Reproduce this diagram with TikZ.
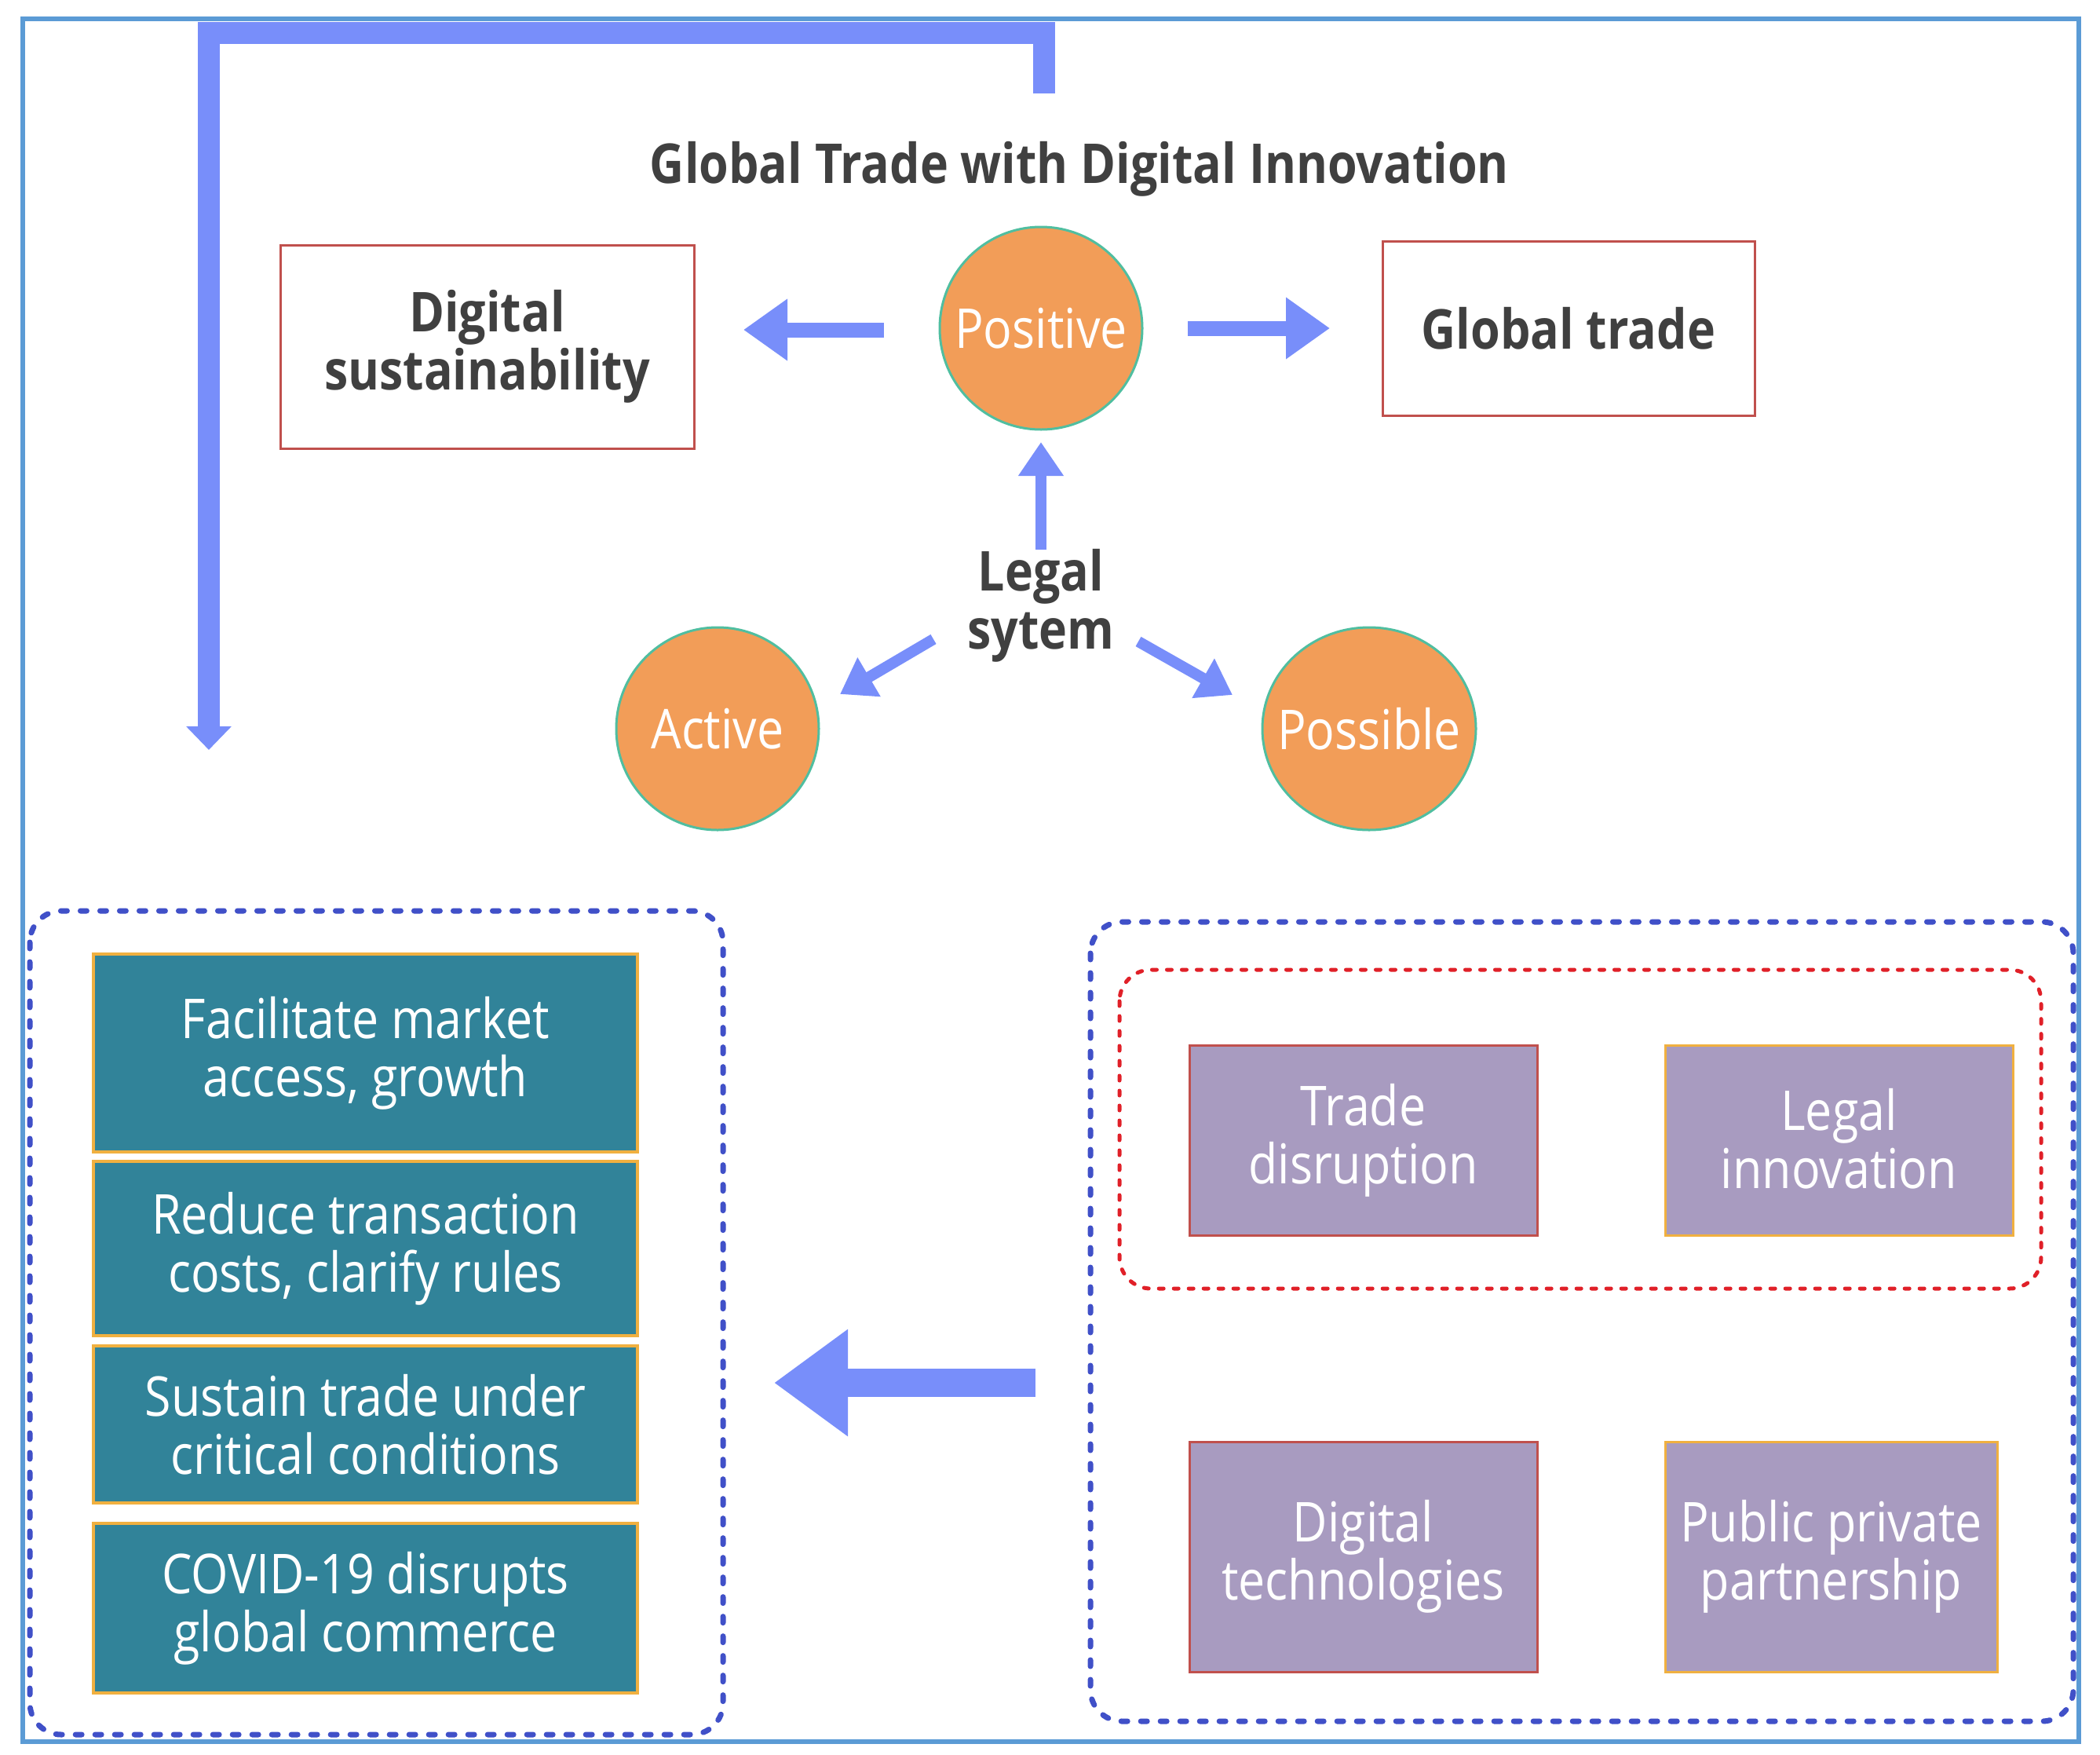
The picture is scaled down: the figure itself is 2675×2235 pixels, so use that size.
\documentclass[tikz,border=0pt]{standalone}
\usepackage{fontspec}
\setmainfont[FakeStretch=0.87]{Open Sans}
\usetikzlibrary{arrows.meta,shapes.geometric}
\definecolor{frameblue}{RGB}{91,155,213}
\definecolor{arrowblue}{RGB}{120,142,250}
\definecolor{darktext}{RGB}{64,64,64}
\definecolor{boxred}{RGB}{192,80,77}
\definecolor{circfill}{RGB}{242,157,88}
\definecolor{circedge}{RGB}{80,190,160}
\definecolor{tealfill}{RGB}{49,131,153}
\definecolor{edgeorange}{RGB}{240,176,64}
\definecolor{purplefill}{RGB}{168,155,192}
\definecolor{dashblue}{RGB}{64,80,200}
\definecolor{dashred}{RGB}{224,32,40}
\begin{document}
\begin{tikzpicture}[x=1pt,y=-1pt,
  txt/.style={font=\fontsize{70}{74}\selectfont, align=center},
  boldtxt/.style={font=\fontsize{70}{74}\selectfont\bfseries, align=center, text=darktext},
  whitebox/.style={rectangle, draw=boxred, line width=3pt, fill=white, boldtxt, inner sep=0pt},
  circ/.style={circle, draw=circedge, line width=3pt, fill=circfill, text=white, txt, minimum size=258pt, inner sep=0pt},
  tealbox/.style={rectangle, draw=edgeorange, line width=4pt, fill=tealfill, text=white, txt, minimum width=693pt, inner sep=0pt},
  purpbox/.style={rectangle, fill=purplefill, text=white, txt, line width=3pt, inner sep=0pt, minimum height=242pt},
  bigarrow/.style={draw=arrowblue, line width=19pt, line cap=butt, -{Triangle[width=75pt,length=56pt]}},
  smallarrow/.style={draw=arrowblue, line width=14pt, line cap=butt, -{Triangle[width=55pt,length=43pt]}},
  dashbox/.style={line width=7pt, rounded corners=40pt, dash pattern=on 8pt off 17pt, line cap=round}
]
\useasboundingbox (0,0) rectangle (2675,2235);
% outer frame
\draw[frameblue, line width=6pt] (29,24) rectangle (2648,2218);

% L-shaped arrow
\coordinate (Lstart) at (1330,119);
\coordinate (Lend) at (266,955);
\draw[arrowblue, line width=28pt, line join=miter, line cap=butt, -{Triangle[width=56pt,length=30pt]}]
  (Lstart) -- (1330,42) -- (266,42) -- (Lend);

% title
\node[boldtxt, anchor=base] (title) at (1375,233) {Global Trade with Digital Innovation};

% top boxes
\node[whitebox, minimum width=527pt, minimum height=259pt] (ds) at (620.5,441.5) {Digital\\sustainability};
\node[whitebox, minimum width=474pt, minimum height=222pt] (gt) at (1998,418) {Global trade};

% circles
\node[circ] (pos) at (1326,418) {Positive};
\node[circ] (act) at (914,928) {Active};
\draw[draw=circedge, line width=3pt, fill=circfill] (1744,928) ellipse [x radius=136pt, y radius=129pt];
\node[txt, text=white, circle, inner sep=0pt, minimum size=258pt] (psb) at (1744,928) {Possible};
\node[boldtxt] (legal) at (1326,771) {Legal\\sytem};

% arrows around Positive
\coordinate (aLs) at (1126,420);
\coordinate (aLe) at (947,420);
\coordinate (aRs) at (1513,418);
\coordinate (aRe) at (1694,418);
\draw[bigarrow] (aLs) -- (aLe);
\draw[bigarrow] (aRs) -- (aRe);

% arrows from legal system
\coordinate (uS) at (1326,700);
\coordinate (uE) at (1326,563);
\coordinate (acS) at (1189,814);
\coordinate (acE) at (1070,884);
\coordinate (psS) at (1450,817);
\coordinate (psE) at (1570,885);
\draw[smallarrow] (uS) -- (uE);
\draw[smallarrow] (acS) -- (acE);
\draw[smallarrow] (psS) -- (psE);

% left dashed group
\draw[dashbox, draw=dashblue] (38,1160) rectangle (921,2209);
\node[tealbox, minimum height=252pt] (t1) at (465.5,1341) {Facilitate market\\access, growth};
\node[tealbox, minimum height=222pt] (t2) at (465.5,1590) {Reduce transaction\\costs, clarify rules};
\node[tealbox, minimum height=200pt] (t3) at (465.5,1814) {Sustain trade under\\critical conditions};
\node[tealbox, minimum height=216pt] (t4) at (465.5,2048) {COVID-19 disrupts\\global commerce};

% big left arrow
\coordinate (bS) at (1319,1761);
\coordinate (bE) at (986,1761);
\draw[draw=arrowblue, line width=36pt, line cap=butt, -{Triangle[width=130pt,length=94pt]}] (bS) -- (bE);

% right dashed group
\draw[dashbox, draw=dashblue] (1389,1174) rectangle (2641,2192);
\draw[dashbox, draw=dashred, line width=5pt, dash pattern=on 6pt off 13pt] (1426,1235) rectangle (2600,1641);
\node[purpbox, draw=boxred, minimum width=443pt] (p1) at (1736.5,1452) {Trade\\disruption};
\node[purpbox, draw=edgeorange, minimum width=443pt] (p2) at (2342.5,1452) {\raisebox{5pt}{Legal}\\\raisebox{5pt}{innovation}};
\node[purpbox, draw=boxred, minimum width=443pt, minimum height=293pt] (p3) at (1736.5,1982.5) {Digital\\technologies};
\node[purpbox, draw=edgeorange, minimum width=423pt, minimum height=293pt] (p4) at (2332.5,1982.5) {Public private\\partnership};
\end{tikzpicture}
\end{document}
